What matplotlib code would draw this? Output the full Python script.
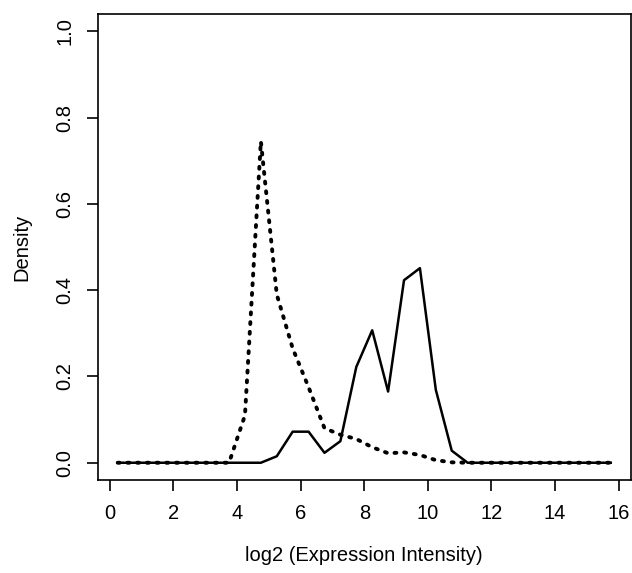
import numpy as np
import matplotlib
matplotlib.use("Agg")
import matplotlib.pyplot as plt

plt.rcParams['font.family'] = ['Liberation Sans', 'DejaVu Sans']

# bin midpoints of log2 intensity
mids = [0.25, 0.75, 1.25, 1.75, 2.25, 2.75, 3.25, 3.75,
        4.25, 4.75, 5.25, 5.75, 6.25, 6.75, 7.25, 7.75,
        8.25, 8.75, 9.25, 9.75, 10.25, 10.75, 11.25, 11.75,
        12.25, 12.75, 13.25, 13.75, 14.25, 14.75, 15.25, 15.75]

# dotted curve
dens_dotted = [0, 0, 0, 0, 0, 0, 0, 0,
               0.11, 0.745, 0.39, 0.265, 0.175, 0.08, 0.065, 0.055,
               0.036, 0.022, 0.024, 0.018, 0.006, 0.001, 0, 0,
               0, 0, 0, 0, 0, 0, 0, 0]

# solid curve
dens_solid = [0, 0, 0, 0, 0, 0, 0, 0,
              0, 0, 0.015, 0.072, 0.072, 0.023, 0.05, 0.222,
              0.307, 0.165, 0.423, 0.451, 0.169, 0.028, 0, 0,
              0, 0, 0, 0, 0, 0, 0, 0]

xticks = [0, 2, 4, 6, 8, 10, 12, 14, 16]
yticks = [0.0, 0.2, 0.4, 0.6, 0.8, 1.0]

fig = plt.figure(figsize=(6.32, 5.73), dpi=100)
ax = fig.add_axes([98 / 632, 93 / 573, 532.5 / 632, 466 / 573])

ax.plot(mids, dens_dotted, color='black', lw=2.8,
        linestyle=(0, (0.5, 2.0)), dash_capstyle='round')
ax.plot(mids, dens_solid, color='black', lw=1.8)

ax.set_xlim(-0.37, 16.37)
ax.set_ylim(-0.04, 1.04)
ax.set_xticks(xticks)
ax.set_xticklabels([str(t) for t in xticks])
ax.set_yticks(yticks)
ax.set_yticklabels(['%.1f' % t for t in yticks], rotation=90, va='center')

ax.tick_params(direction='out', length=8, width=1.2, labelsize=14.5, pad=9)
for s in ax.spines.values():
    s.set_linewidth(1.2)

ax.set_xlabel('log2 (Expression Intensity)', fontsize=14.5, labelpad=17)
ax.set_ylabel('Density', fontsize=14.5, labelpad=17)

fig.savefig('out.png', dpi=100)
